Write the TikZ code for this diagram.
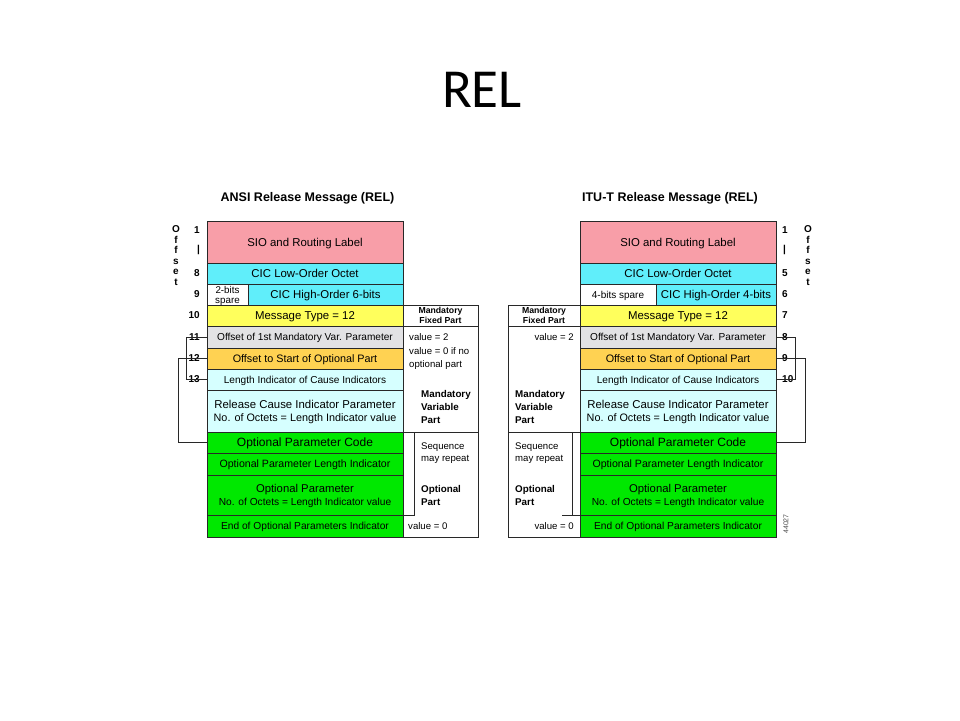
\documentclass[tikz,border=0pt]{standalone}
\usepackage{fontspec}
\setmainfont{Liberation Sans}
\newfontfamily\slidefont{Carlito}
\usetikzlibrary{positioning,calc}
\definecolor{siocol}{RGB}{248,158,168}
\definecolor{ciccol}{RGB}{96,238,250}
\definecolor{typecol}{RGB}{255,255,92}
\definecolor{ofscol}{RGB}{226,226,228}
\definecolor{optofscol}{RGB}{255,210,82}
\definecolor{lencol}{RGB}{214,255,255}
\definecolor{optcol}{RGB}{0,232,0}
\definecolor{framecol}{RGB}{40,40,40}
\newcommand\fsz[1]{\fontsize{#1}{13}\selectfont}

\begin{document}
\begin{tikzpicture}[
        x=1pt, y=-1pt,
        field/.style={
                rectangle, draw=framecol, line width=0.9pt,
                minimum width=196pt, minimum height=21pt,
                inner sep=0pt, outer sep=0pt, align=center,
                text depth=0pt, font=\fsz{10.1}
            },
        bigfield/.style={field, font=\fsz{11.4}},
        fixnote/.style={
                field, fill=white, minimum height=21pt,
                font=\bfseries\fontsize{8.7}{10}\selectfont
            },
        frame/.style={field, fill=none, minimum height=106pt},
        note/.style={inner sep=0pt, align=left, font=\fontsize{9.6}{12.5}\selectfont},
        boldnote/.style={note, font=\bfseries\fontsize{9.8}{13}\selectfont},
        offnum/.style={inner sep=0pt, font=\bfseries\fontsize{10}{10.5}\selectfont},
        title/.style={inner sep=0pt, font=\bfseries\fontsize{12.5}{15}\selectfont},
        link/.style={draw=framecol, line width=0.9pt}
    ]

    \path[fill=white, use as bounding box] (0,0) rectangle (960,720);

    % ===== Slide title =====
    \node[font=\slidefont\fontsize{55}{60}\selectfont, inner sep=0pt, anchor=base] (relT) at (482,107) {REL};

    % ===== ANSI message (left) =====
    \node[bigfield, fill=siocol, minimum height=42pt] (sioA) at (305,242) {SIO and Routing Label};
    \node[bigfield, fill=ciccol, below=0pt of sioA] (lowA) {CIC Low-Order Octet};
    \node[field, fill=white, minimum width=41pt, below right=0pt and 0pt of lowA.south west,
        font=\fontsize{9.8}{10}\selectfont] (spareA) {2-bits\\spare};
    \node[bigfield, fill=ciccol, minimum width=155pt, right=0pt of spareA] (highA) {CIC High-Order 6-bits};
    \node[bigfield, fill=typecol, below right=0pt and 0pt of spareA.south west] (msgA) {Message Type = 12};
    \node[field, fill=ofscol, minimum height=22pt, below=0pt of msgA] (ofsA) {Offset of 1st Mandatory Var. Parameter};
    \node[field, fill=optofscol, below=0pt of ofsA, font=\fsz{10.8}] (optA) {Offset to Start of Optional Part};
    \node[field, fill=lencol, below=0pt of optA] (lenA) {Length Indicator of Cause Indicators};
    \node[bigfield, fill=lencol, minimum height=42pt, below=0pt of lenA] (relA) {
        Release Cause Indicator Parameter\\{\fsz{10.8}No. of Octets = Length Indicator value}
    };
    \node[field, fill=optcol, below=0pt of relA, font=\fsz{12}] (codeA) {Optional Parameter Code};
    \node[field, fill=optcol, minimum height=22pt, below=0pt of codeA, font=\fsz{10.6}] (olenA) {Optional Parameter Length Indicator};
    \node[field, fill=optcol, minimum height=40pt, below=0pt of olenA, font=\fsz{11.3}] (oparA) {
        Optional Parameter\\{\fsz{10.2}No. of Octets = Length Indicator value}
    };
    \node[field, fill=optcol, minimum height=22pt, below=0pt of oparA, font=\fsz{10.2}] (endA) {End of Optional Parameters Indicator};

    \node[title, above=17pt of sioA, xshift=2.5pt] (ansiT) {ANSI Release Message (REL)};

    % ===== ANSI offsets =====
    \node[offnum, align=center, anchor=north] (offA) at ([xshift=-31pt,yshift=-4.8pt]sioA.north west) {O\\f\\f\\s\\e\\t};
    \node[offnum, anchor=east] (nA1) at ([xshift=-7pt,yshift=-9pt]sioA.north west) {1};
    \node[offnum, anchor=east] (nAbar) at ([xshift=-7pt,yshift=-29pt]sioA.north west) {|};
    \node[offnum, left=7pt of lowA] (nA8) {8};
    \node[offnum, left=7pt of spareA] (nA9) {9};
    \node[offnum, left=7pt of msgA] (nA10) {10};
    \node[offnum, left=7pt of ofsA] (nA11) {11};
    \node[offnum, left=7pt of optA] (nA12) {12};
    \node[offnum, left=7pt of lenA] (nA13) {13};

    % ===== ANSI pointers =====
    \draw[link] (ofsA.west) -- ++(-21,0) |- (lenA.west);
    \draw[link] (optA.west) -- ++(-29,0) |- (codeA.west);

    % ===== ANSI part notes =====
    \node[fixnote, minimum width=75pt, right=0pt of msgA] (fixA) {Mandatory\\Fixed Part};
    \node[frame, minimum width=75pt, below=0pt of fixA] (varA) {};
    \node[frame, minimum width=75pt, minimum height=105pt, below=0pt of varA] (optpA) {};
    \node[note, right=6pt of ofsA] (v2A) {value = 2};
    \node[note, right=6pt of optA] (v0A) {value = 0 if no\\optional part};
    \node[boldnote, right=18pt of relA, yshift=4.5pt] (mvarA) {Mandatory\\Variable\\Part};
    \node[note, right=18pt of codeA.south east] (seqA) {Sequence\\may repeat};
    \node[boldnote, right=18pt of oparA] (opnA) {Optional\\Part};
    \node[note, right=5pt of endA] (vendA) {value = 0};
    \draw[link] ([xshift=11pt]codeA.north east) |- (endA.north east);

    % ===== ITU-T message (right) =====
    \node[bigfield, fill=siocol, minimum height=42pt] (sioB) at (678,242) {SIO and Routing Label};
    \node[bigfield, fill=ciccol, below=0pt of sioB] (lowB) {CIC Low-Order Octet};
    \node[field, fill=white, minimum width=76pt, below right=0pt and 0pt of lowB.south west,
        font=\fsz{10}] (spareB) {4-bits spare};
    \node[bigfield, fill=ciccol, minimum width=120pt, right=0pt of spareB] (highB) {CIC High-Order 4-bits};
    \node[bigfield, fill=typecol, below right=0pt and 0pt of spareB.south west] (msgB) {Message Type = 12};
    \node[field, fill=ofscol, minimum height=22pt, below=0pt of msgB] (ofsB) {Offset of 1st Mandatory Var. Parameter};
    \node[field, fill=optofscol, below=0pt of ofsB, font=\fsz{10.8}] (optB) {Offset to Start of Optional Part};
    \node[field, fill=lencol, below=0pt of optB] (lenB) {Length Indicator of Cause Indicators};
    \node[bigfield, fill=lencol, minimum height=42pt, below=0pt of lenB] (relB) {
        Release Cause Indicator Parameter\\{\fsz{10.8}No. of Octets = Length Indicator value}
    };
    \node[field, fill=optcol, below=0pt of relB, font=\fsz{12}] (codeB) {Optional Parameter Code};
    \node[field, fill=optcol, minimum height=22pt, below=0pt of codeB, font=\fsz{10.6}] (olenB) {Optional Parameter Length Indicator};
    \node[field, fill=optcol, minimum height=40pt, below=0pt of olenB, font=\fsz{11.3}] (oparB) {
        Optional Parameter\\{\fsz{10.2}No. of Octets = Length Indicator value}
    };
    \node[field, fill=optcol, minimum height=22pt, below=0pt of oparB, font=\fsz{10.2}] (endB) {End of Optional Parameters Indicator};

    \node[title, above=17pt of sioB, xshift=-8pt] (ituT) {ITU-T Release Message (REL)};

    % ===== ITU-T offsets =====
    \node[offnum, align=center, anchor=north] (offB) at ([xshift=32pt,yshift=-4.8pt]sioB.north east) {O\\f\\f\\s\\e\\t};
    \node[offnum, anchor=west] (nB1) at ([xshift=6pt,yshift=-9pt]sioB.north east) {1};
    \node[offnum, anchor=west] (nBbar) at ([xshift=7pt,yshift=-29pt]sioB.north east) {|};
    \node[offnum, right=6pt of lowB] (nB5) {5};
    \node[offnum, right=6pt of highB] (nB6) {6};
    \node[offnum, right=6pt of msgB] (nB7) {7};
    \node[offnum, right=6pt of ofsB] (nB8) {8};
    \node[offnum, right=6pt of optB] (nB9) {9};
    \node[offnum, right=6pt of lenB] (nB10) {10};

    % ===== ITU-T pointers =====
    \draw[link] (ofsB.east) -- ++(19,0) |- (lenB.east);
    \draw[link] (optB.east) -- ++(29,0) |- (codeB.east);

    % ===== ITU-T part notes =====
    \node[fixnote, minimum width=72pt, left=0pt of msgB] (fixB) {Mandatory\\Fixed Part};
    \node[frame, minimum width=72pt, below=0pt of fixB] (varB) {};
    \node[frame, minimum width=72pt, minimum height=105pt, below=0pt of varB] (optpB) {};
    \node[note, left=6pt of ofsB] (v2B) {value = 2};
    \node[boldnote, anchor=west] (mvarB) at ($(varB.west |- relB.center)+(7pt,4.5pt)$) {Mandatory\\Variable\\Part};
    \node[note, anchor=west] (seqB) at ($(optpB.west |- codeB.south)+(7pt,0pt)$) {Sequence\\may repeat};
    \node[boldnote, anchor=west] (opnB) at ($(optpB.west |- oparB.center)+(7pt,0pt)$) {Optional\\Part};
    \node[note, left=6pt of endB] (vendB) {value = 0};
    \draw[link] ([xshift=-8pt]codeB.north west) -- ([xshift=-8pt]endB.north west);
    \draw[link] ([xshift=-18pt]endB.north west) -- (endB.north west);

    % ===== figure id =====
    \node[rotate=90, inner sep=0pt, text=black!70, font=\fontsize{7}{8}\selectfont] (figid) at ([xshift=10pt,yshift=2pt]endB.east) {44027};

\end{tikzpicture}
\end{document}
